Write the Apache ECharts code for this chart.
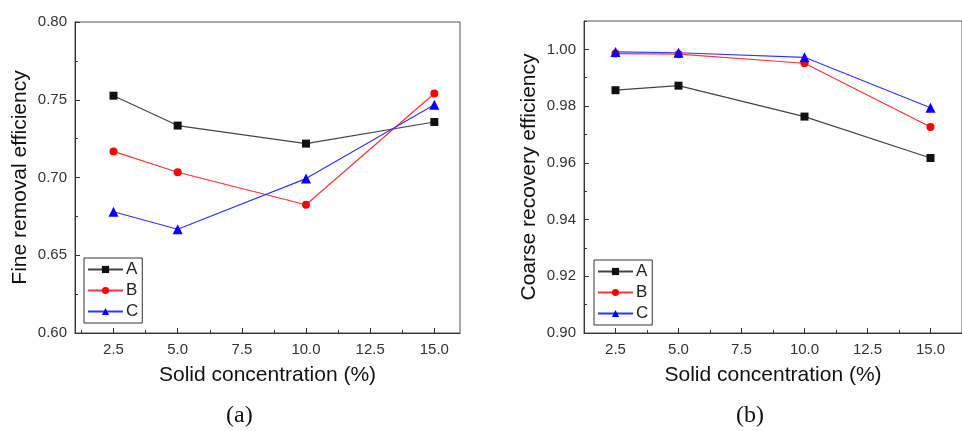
<!DOCTYPE html>
<html>
<head>
<meta charset="utf-8">
<script src="https://cdn.jsdelivr.net/npm/echarts@6/dist/echarts.min.js"></script>
<style>
html,body{margin:0;padding:0;background:#fff;}
#chart{width:962px;height:431px;}
</style>
</head>
<body>
<div id="chart"></div>
<script>
// ---- data ----
var concentration = [2.5, 5.0, 10.0, 15.0];
var seriesNames = ['A', 'B', 'C'];
var fineA = [0.7526, 0.7334, 0.7218, 0.7357];
var fineB = [0.7168, 0.7034, 0.6825, 0.7540];
var fineC = [0.6780, 0.6667, 0.6993, 0.7468];
var coarseA = [0.9856, 0.9872, 0.9763, 0.9617];
var coarseB = [0.9985, 0.9983, 0.9951, 0.9726];
var coarseC = [0.9991, 0.9988, 0.9972, 0.9794];
var xTicks = [2.5, 5.0, 7.5, 10.0, 12.5, 15.0];
var xMinorTicks = [1.25, 3.75, 6.25, 8.75, 11.25, 13.75];
var fineTicks = [0.60, 0.65, 0.70, 0.75, 0.80];
var fineMinorTicks = [0.625, 0.675, 0.725, 0.775];
var coarseTicks = [0.90, 0.92, 0.94, 0.96, 0.98, 1.00];
var coarseMinorTicks = [0.91, 0.93, 0.95, 0.97, 0.99, 1.01];
var yTitleA = 'Fine removal efficiency';
var yTitleB = 'Coarse recovery efficiency';
var xTitle = 'Solid concentration (%)';

var colors = ['#111111', '#ff0000', '#0000ff'];
var lineColors = ['#444444', '#ff3333', '#3333ff'];
var symbols = ['rect', 'circle', 'triangle'];
var symbolSizes = [8, 8, 10];
var FONT = '"Liberation Sans", Arial, sans-serif';

function pairs(vals) {
  return concentration.map(function (c, i) { return [c, vals[i]]; });
}

function majorX(grid, min, max) {
  return {
    type: 'value', gridIndex: grid, min: min, max: max,
    name: xTitle, nameLocation: 'middle', nameGap: 32,
    nameTextStyle: { fontFamily: FONT, fontSize: 21, color: '#111' },
    axisLine: { show: true, onZero: false, lineStyle: { color: '#333', width: 1 } },
    axisTick: { show: true, inside: true, length: 5, customValues: xTicks, lineStyle: { color: '#333' } },
    axisLabel: { show: true, customValues: xTicks, margin: 9, fontFamily: FONT, fontSize: 15, color: '#333',
      formatter: function (v) { return v.toFixed(1); } },
    splitLine: { show: false }
  };
}
function minorX(grid, min, max) {
  return {
    type: 'value', gridIndex: grid, min: min, max: max, position: 'bottom',
    axisLine: { show: false, onZero: false },
    axisTick: { show: true, inside: true, length: 3, customValues: xMinorTicks, lineStyle: { color: '#333' } },
    axisLabel: { show: false }, splitLine: { show: false }
  };
}
function majorY(grid, min, max, ticks, title, dec) {
  return {
    type: 'value', gridIndex: grid, min: min, max: max,
    name: title, nameLocation: 'middle', nameGap: 44,
    nameTextStyle: { fontFamily: FONT, fontSize: 21, color: '#111' },
    axisLine: { show: true, onZero: false, lineStyle: { color: '#333', width: 1 } },
    axisTick: { show: true, inside: true, length: 5, customValues: ticks, lineStyle: { color: '#333' } },
    axisLabel: { show: true, customValues: ticks, margin: 8, fontFamily: FONT, fontSize: 15, color: '#333',
      formatter: function (v) { return v.toFixed(dec); } },
    splitLine: { show: false }
  };
}
function minorY(grid, min, max, ticks) {
  return {
    type: 'value', gridIndex: grid, min: min, max: max, position: 'left',
    axisLine: { show: false, onZero: false },
    axisTick: { show: true, inside: true, length: 3, customValues: ticks, lineStyle: { color: '#333' } },
    axisLabel: { show: false }, splitLine: { show: false }
  };
}

function mkSeries(name, idx, vals, grid) {
  return {
    name: name, type: 'line', xAxisIndex: grid * 2, yAxisIndex: grid * 2,
    data: pairs(vals), symbol: symbols[idx], symbolSize: symbolSizes[idx],
    itemStyle: { color: colors[idx] },
    lineStyle: { color: lineColors[idx], width: 1.2 },
    legendHoverLink: false, animation: false, z: 3
  };
}

function legendFor(grid, left, top) {
  return {
    data: seriesNames.map(function (n) { return { name: n }; }),
    orient: 'vertical', left: left, top: top,
    borderColor: '#333', borderWidth: 1, borderRadius: 0,
    padding: [3, 4, 3, 3], itemGap: 4, itemWidth: 35, itemHeight: 9,
    textStyle: { fontFamily: FONT, fontSize: 17, color: '#222', padding: [0, 0, 0, -2] },
    selectedMode: false
  };
}

var chart = echarts.init(document.getElementById('chart'), null, { renderer: 'canvas' });
var option = {
  backgroundColor: '#ffffff',
  animation: false,
  grid: [
    { left: 75, top: 22, width: 385, height: 311, show: true, borderColor: '#555', borderWidth: 1, backgroundColor: 'transparent' },
    { left: 584, top: 21, width: 386, height: 312, show: true, borderColor: '#555', borderWidth: 1, backgroundColor: 'transparent' }
  ],
  xAxis: [
    majorX(0, 1.0, 16.0), minorX(0, 1.0, 16.0),
    majorX(1, 1.25, 16.25), minorX(1, 1.25, 16.25)
  ],
  yAxis: [
    majorY(0, 0.60, 0.80, fineTicks, yTitleA, 2), minorY(0, 0.60, 0.80, fineMinorTicks),
    majorY(1, 0.90, 1.01, coarseTicks, yTitleB, 2), minorY(1, 0.90, 1.01, coarseMinorTicks)
  ],
  legend: [legendFor(0, 84, 258), legendFor(1, 594, 260)],
  series: [
    mkSeries('A', 0, fineA, 0), mkSeries('B', 1, fineB, 0), mkSeries('C', 2, fineC, 0),
    mkSeries('A', 0, coarseA, 1), mkSeries('B', 1, coarseB, 1), mkSeries('C', 2, coarseC, 1)
  ],
  graphic: [
    { type: 'text', left: 226, top: 404, style: { text: '(a)', font: '24px "Liberation Serif", "Times New Roman", serif', fill: '#111' } },
    { type: 'text', left: 736, top: 404, style: { text: '(b)', font: '24px "Liberation Serif", "Times New Roman", serif', fill: '#111' } }
  ]
};
chart.setOption(option);
</script>
</body>
</html>
